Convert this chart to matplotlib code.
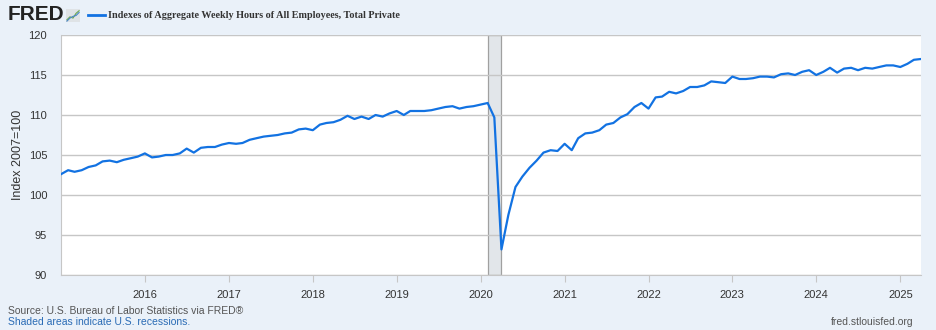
import matplotlib.pyplot as plt
import matplotlib.dates as mdates
import pandas as pd

# Monthly index values, Jan 2015 .. Apr 2025 (2007=100)
hours_index = [
    102.6, 103.1, 102.9, 103.1, 103.5, 103.7, 104.2, 104.3, 104.1, 104.4, 104.6, 104.8,
    105.2, 104.7, 104.8, 105.0, 105.0, 105.2, 105.8, 105.3, 105.9, 106.0, 106.0, 106.3,
    106.5, 106.4, 106.5, 106.9, 107.1, 107.3, 107.4, 107.5, 107.7, 107.8, 108.2, 108.3,
    108.1, 108.8, 109.0, 109.1, 109.4, 109.9, 109.5, 109.8, 109.5, 110.0, 109.8, 110.2,
    110.5, 110.0, 110.5, 110.5, 110.5, 110.6, 110.8, 111.0, 111.1, 110.8, 111.0, 111.1,
    111.3, 111.5, 109.7, 93.2, 97.5, 101.0, 102.3, 103.4, 104.3, 105.3, 105.6, 105.5,
    106.4, 105.6, 107.1, 107.7, 107.8, 108.1, 108.8, 109.0, 109.7, 110.1, 111.0, 111.5,
    110.8, 112.2, 112.3, 112.9, 112.7, 113.0, 113.5, 113.5, 113.7, 114.2, 114.1, 114.0,
    114.8, 114.5, 114.5, 114.6, 114.8, 114.8, 114.7, 115.1, 115.2, 115.0, 115.4, 115.6,
    115.0, 115.4, 115.9, 115.3, 115.8, 115.9, 115.6, 115.9, 115.8, 116.0, 116.2, 116.2,
    116.0, 116.4, 116.9, 117.0,
]
months = pd.date_range("2015-01-01", periods=len(hours_index), freq="MS")
recession = ("2020-02-01", "2020-04-01")
year_ticks = list(range(2016, 2026))
y_ticks = [90, 95, 100, 105, 110, 115, 120]

bg = "#eaf1f9"
line_blue = "#1272e2"

fig = plt.figure(figsize=(9.36, 3.3), dpi=100, facecolor=bg)
ax = fig.add_axes([61 / 936, 55 / 330, 860 / 936, 240 / 330])
ax.set_facecolor("white")

ax.axvspan(pd.Timestamp(recession[0]), pd.Timestamp(recession[1]),
           facecolor="#e2e6ea", edgecolor="#a0a0a0", lw=0.9, zorder=1)
ax.plot(months, hours_index, color=line_blue, lw=1.6, zorder=3, solid_joinstyle="round")

ax.set_xlim(pd.Timestamp("2015-01-01"), pd.Timestamp("2025-04-01"))
ax.set_ylim(90, 120)
ax.set_yticks(y_ticks)
ax.set_xticks([pd.Timestamp(f"{y}-01-01") for y in year_ticks])
ax.xaxis.set_major_formatter(mdates.DateFormatter("%Y"))
ax.grid(axis="y", color="#c6c6c6", lw=1, zorder=0)
for side in ("top", "right"):
    ax.spines[side].set_visible(False)
ax.spines["left"].set_color("#c6c6c6")
ax.spines["bottom"].set_color("#c6c6c6")
ax.tick_params(axis="x", length=5, color="#c6c6c6", labelsize=8, labelcolor="#333333", pad=6)
ax.tick_params(axis="y", length=0, labelsize=8, labelcolor="#333333", pad=10)
for lbl in ax.get_xticklabels() + ax.get_yticklabels():
    lbl.set_family("Liberation Sans")
ax.set_ylabel("Index 2007=100", fontsize=9, color="#333333", family="Liberation Sans", labelpad=3)

# header: logo, legend swatch, series title
fig.text(8 / 936, 1 - 15 / 330, "FRED", fontsize=15, weight="bold", color="#222222",
         family="Liberation Sans", va="center", ha="left")
icon = fig.add_axes([66 / 936, 1 - 22 / 330, 14 / 936, 13 / 330])
icon.set_facecolor("#dfe3e6")
icon.plot([0, 1, 2, 3, 4], [0.5, 1.2, 0.9, 2.0, 2.6], color="#6aa84f", lw=0.8)
icon.plot([0, 1, 2, 3, 4], [0.2, 0.9, 1.3, 1.5, 2.2], color="#4a86c8", lw=0.8)
icon.set_xlim(-0.3, 4.3)
icon.set_ylim(0, 3)
icon.set_xticks([])
icon.set_yticks([])
for s in icon.spines.values():
    s.set_visible(False)
fig.add_artist(plt.Line2D([88 / 936, 105 / 936], [1 - 15 / 330, 1 - 15 / 330],
                          color=line_blue, lw=2, transform=fig.transFigure))
fig.text(108 / 936, 1 - 15 / 330, "Indexes of Aggregate Weekly Hours of All Employees, Total Private",
         fontsize=7.3, weight="bold", color="#333333", family="Liberation Serif",
         va="center", ha="left")

# footer notes
fig.text(8 / 936, 1 - 311 / 330, "Source: U.S. Bureau of Labor Statistics via FRED®",
         fontsize=7.5, color="#555555", family="Liberation Sans", va="center")
fig.text(8 / 936, 1 - 322 / 330, "Shaded areas indicate U.S. recessions.",
         fontsize=7.5, color="#2a6bb5", family="Liberation Sans", va="center")
fig.text(914 / 936, 1 - 322 / 330, "fred.stlouisfed.org",
         fontsize=7.5, color="#555555", family="Liberation Sans", va="center", ha="right")

fig.savefig("out.png", dpi=100, facecolor=bg)
